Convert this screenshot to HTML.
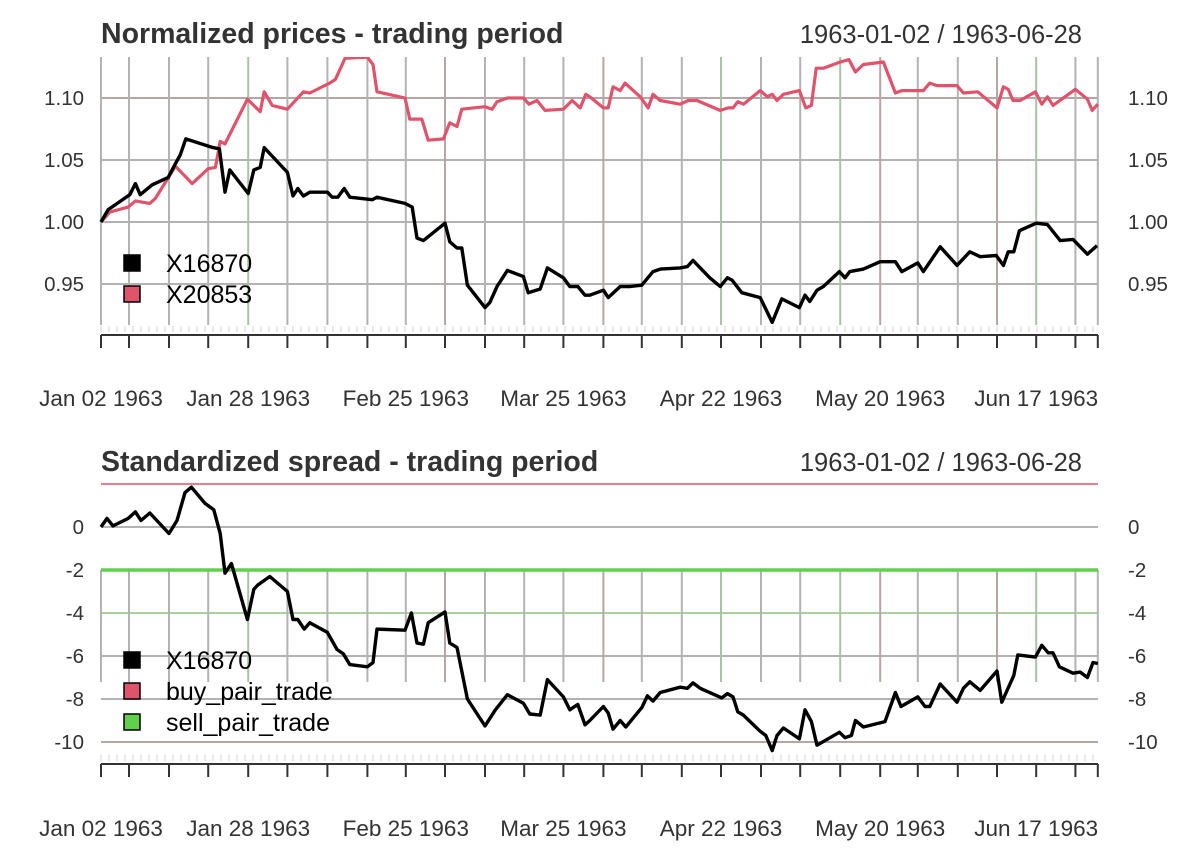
<!DOCTYPE html>
<html><head><meta charset="utf-8">
<style>
html,body{margin:0;padding:0;background:#fff;}
svg{display:block;font-family:"Liberation Sans",Arial,sans-serif;}
</style></head>
<body>
<svg id="chart" width="1200" height="857" viewBox="0 0 1200 857" xmlns="http://www.w3.org/2000/svg">
<text x="101" y="43" font-size="28.5" font-weight="bold" fill="#333">Normalized prices - trading period</text>
<text x="1082" y="43" font-size="25.5" fill="#333" text-anchor="end">1963-01-02 / 1963-06-28</text>
<text x="101" y="471" font-size="28.5" font-weight="bold" fill="#333">Standardized spread - trading period</text>
<text x="1082" y="471" font-size="25.5" fill="#333" text-anchor="end">1963-01-02 / 1963-06-28</text>
<g id="grid"></g>
<g id="series"></g>
<g id="axes"></g>
<g id="legends"></g>
</svg>
<script>
// ---- data ----
const weekTickIdx = [0,3.5,8.5,13.4,18.4,23.3,28.3,33.3,38.1,43,48,52.9,57.8,62.8,67.6,72.6,77.5,82.5,87.4,92.4,97.4,102.1,107.1,112,116.9,121.8,124.6];
const dateLabelIdx = [0,18.4,38.1,57.8,77.5,97.4,116.9];
const dateLabels = ["Jan 02 1963","Jan 28 1963","Feb 25 1963","Mar 25 1963","Apr 22 1963","May 20 1963","Jun 17 1963"];
const priceTicks = [0.95,1.00,1.05,1.10];
const priceTickLabels = ["0.95","1.00","1.05","1.10"];
const spreadTicks = [0,-2,-4,-6,-8,-10];
const spreadTickLabels = ["0","-2","-4","-6","-8","-10"];
const buyLevel = 2;
const sellLevel = -2;

const blackIdx = [0,0.9,3.6,4.3,4.9,6.4,8.4,9.3,9.9,10.6,14,14.8,15.5,16.1,18.4,19.1,19.9,20.4,23.3,24,24.6,25.3,26.1,28.3,28.9,29.6,30.4,31.1,33.9,34.5,38,38.9,39.5,40.3,43,43.6,44.5,45.1,45.8,48,48.6,49.5,50.8,52.8,53.4,54.9,55.8,57.8,58.6,59.6,60.5,
61.1,62.8,63.4,64.9,66.1,67.6,69,69.9,72.4,73.3,74,76.1,77.4,78.3,78.9,80.1,82.4,83.9,85.1,87.3,88,88.6,89.5,90.3,92.3,93,93.6,95.3,97.4,99.3,100.1,102.1,102.8,104.9,107,108.6,109.9,111.9,112.8,113.4,114.1,114.8,116.9,118.3,119.9,121.5,123.3,124.5];
const blackVal = [1.000,1.010,1.022,1.031,1.022,1.030,1.036,1.047,1.054,1.067,1.060,1.059,1.024,1.042,1.023,1.042,1.044,1.060,1.040,1.021,1.027,1.021,1.024,1.024,1.020,1.020,1.027,1.020,1.018,1.020,1.015,1.012,0.987,0.985,0.999,0.984,0.979,0.979,0.949,0.931,0.935,0.948,0.961,0.956,0.943,0.946,0.963,0.955,0.948,0.948,0.941,
0.941,0.945,0.939,0.948,0.948,0.949,0.960,0.962,0.963,0.964,0.969,0.955,0.948,0.955,0.953,0.943,0.939,0.919,0.938,0.931,0.941,0.936,0.945,0.948,0.960,0.955,0.960,0.962,0.968,0.968,0.960,0.967,0.960,0.980,0.965,0.976,0.972,0.973,0.965,0.976,0.976,0.993,0.999,0.998,0.985,0.986,0.974,0.981];

const redIdx = [0,1.1,3.4,4.3,6.1,6.8,9.3,11.4,13.4,14.3,14.9,15.5,18.3,19.9,20.4,21.4,23.3,25.3,26.1,28.6,29.3,30.5,33.3,34,34.5,38,38.6,40.1,40.9,42.8,43.6,44.5,45.1,48,48.9,49.5,50.8,52.8,53.5,54.5,55.5,57.8,58.9,59.9,60.6,
61.1,62.8,63.4,64,64.9,65.5,67.4,68.4,69,69.9,72.4,73.4,74.5,77.4,78.4,79,79.6,80.3,82.4,83.3,83.9,84.5,85.3,87.3,88.1,88.8,89.4,90.3,92.4,93.5,94.3,95.3,97.8,99.3,100.1,102.8,103.6,104.5,107,107.8,109.6,112,112.8,113.4,114,114.9,116.8,117.6,118.3,119,121.8,123.3,123.9,124.6];
const redVal = [1.000,1.008,1.012,1.017,1.015,1.019,1.045,1.031,1.043,1.044,1.065,1.063,1.099,1.089,1.105,1.094,1.091,1.105,1.104,1.112,1.115,1.132,1.133,1.127,1.105,1.100,1.083,1.083,1.066,1.067,1.080,1.077,1.091,1.093,1.091,1.097,1.100,1.100,1.095,1.098,1.090,1.091,1.098,1.092,1.103,
1.101,1.092,1.092,1.109,1.106,1.112,1.101,1.092,1.103,1.098,1.095,1.098,1.098,1.090,1.092,1.092,1.097,1.095,1.106,1.101,1.103,1.098,1.103,1.106,1.092,1.094,1.124,1.124,1.129,1.131,1.121,1.127,1.129,1.104,1.106,1.106,1.112,1.110,1.110,1.104,1.105,1.092,1.109,1.107,1.098,1.098,1.105,1.095,1.101,1.094,1.107,1.099,1.090,1.095];

const spreadIdx = [0,0.75,1.5,3.4,4.3,5,6.1,8.5,9.5,10.5,11.3,13,14.1,14.9,15.5,16.3,18.3,19.1,19.6,21.1,23.3,24,24.6,25.4,26.1,28.3,29.5,30.3,31.1,33.3,34,34.5,38,38.8,39.5,40.3,40.9,43,43.6,44.5,45.8,48,49.3,50.8,52.8,53.6,54.9,55.8,57.8,58.6,59.6,60.5,
61.1,62.8,63.4,64,64.9,65.6,67.6,68.3,69,69.9,72.4,73.3,74,74.9,77.6,78.3,79,79.6,80.3,82.4,83.1,83.9,84.5,85.3,87.3,88,88.8,89.5,92.3,93,93.8,94.3,95.3,98,99.3,100,102.1,103,103.6,104.9,107,107.8,108.6,109.9,112,112.6,114.1,114.6,116.8,117.6,118.4,119,119.8,121.5,122.4,123.3,124,124.6];
const spreadVal = [0,0.4,0.05,0.4,0.7,0.3,0.65,-0.3,0.3,1.6,1.85,1.1,0.8,-0.3,-2.15,-1.7,-4.3,-2.9,-2.7,-2.3,-3.0,-4.3,-4.3,-4.75,-4.45,-4.9,-5.7,-5.9,-6.4,-6.5,-6.3,-4.75,-4.8,-4.0,-5.4,-5.45,-4.45,-3.95,-5.4,-5.6,-8.0,-9.25,-8.5,-7.8,-8.2,-8.7,-8.75,-7.1,-7.9,-8.5,-8.25,-9.2,
-9.0,-8.35,-8.65,-9.4,-9.0,-9.3,-8.4,-7.85,-8.1,-7.7,-7.45,-7.5,-7.25,-7.5,-7.95,-7.75,-7.9,-8.6,-8.75,-9.5,-9.7,-10.4,-9.7,-9.35,-9.85,-8.5,-9.05,-10.15,-9.55,-9.8,-9.7,-9.0,-9.3,-9.05,-7.7,-8.35,-7.9,-8.35,-8.35,-7.3,-8.15,-7.5,-7.2,-7.6,-6.7,-8.15,-6.9,-5.95,-6.05,-5.5,-5.85,-5.85,-6.5,-6.8,-6.75,-7.0,-6.3,-6.35];

// ---- scales ----
const NS='http://www.w3.org/2000/svg';
const X0=101, X1=1098, DAY=8.0;
function xs(i){return X0+i*DAY;}
function yTop(v){return 222-(v-1)*1240;}
function yBot(v){return 527-v*21.5;}
function mk(tag,attrs,parent){const e=document.createElementNS(NS,tag);for(const k in attrs)e.setAttribute(k,attrs[k]);parent.appendChild(e);return e;}
const grid=document.getElementById('grid'), ser=document.getElementById('series'), axes=document.getElementById('axes'), leg=document.getElementById('legends');
const tint=["#b3b3b3","#b3b3b3","#b3b3b3","#b3b3b3","#a9c4a4","#b3b3b3","#b3b3b3","#b3b3b3","#b3b3b3","#b8a6a6","#b3b3b3","#b3b3b3","#b3b3b3","#b8a6a6","#b3b3b3","#b3b3b3","#a9c4a4","#b3b3b3","#b3b3b3","#a9c4a4","#b8a6a6","#b3b3b3","#b3b3b3","#b8a6a6","#a9c4a4","#b3b3b3","#b3b3b3"];

// top panel grid
priceTicks.forEach((t,k)=>{
  const l=mk('line',{x1:X0,x2:X1,y1:yTop(t),y2:yTop(t),stroke:t===1.10?'#b8a6a6':'#b3b3b3','stroke-width':2},grid);
  
  
  const a=mk('text',{x:84,y:yTop(t)+7,'font-size':20.5,fill:'#333','text-anchor':'end'},axes);a.textContent=priceTickLabels[k];
  
  
  const b=mk('text',{x:1128,y:yTop(t)+7,'font-size':20.5,fill:'#333'},axes);b.textContent=priceTickLabels[k];
  
  
});
weekTickIdx.forEach((i,k)=>{
  const l=mk('line',{x1:xs(i),x2:xs(i),y1:57,y2:325,stroke:tint[k],'stroke-width':2},grid);
  
  
});
// bottom panel grid
spreadTicks.forEach((t,k)=>{
  let c='#b3b3b3',w=2;
  if(t===-4){c='#a9d2a0';} if(t===-10){c='#b8a6a6';}
  if(t!==sellLevel){
    const l=mk('line',{x1:X0,x2:X1,y1:yBot(t),y2:yBot(t),stroke:c,'stroke-width':w},grid);
    
    
  }
  const a=mk('text',{x:84,y:yBot(t)+7,'font-size':20.5,fill:'#333','text-anchor':'end'},axes);a.textContent=spreadTickLabels[k];
  
  
  const b=mk('text',{x:1128,y:yBot(t)+7,'font-size':20.5,fill:'#333'},axes);b.textContent=spreadTickLabels[k];
  
  
});
weekTickIdx.forEach((i,k)=>{
  const l=mk('line',{x1:xs(i),x2:xs(i),y1:yBot(sellLevel),y2:682,stroke:tint[k],'stroke-width':2},grid);
  
  
});
const bl=mk('line',{x1:X0,x2:X1,y1:yBot(buyLevel),y2:yBot(buyLevel),stroke:'#df536b','stroke-width':1.5},grid);


const sl=mk('line',{x1:X0,x2:X1,y1:yBot(sellLevel),y2:yBot(sellLevel),stroke:'#61d04f','stroke-width':3.5},grid);



// x axes
[[335,348,326,398],[764,777,755,828]].forEach((p,pi)=>{
  const ax=mk('line',{x1:X0,x2:X1,y1:p[0],y2:p[0],stroke:'#333','stroke-width':2},axes);
  
  
  for(let d=0;d<=124;d++){
    const m=mk('line',{x1:xs(d),x2:xs(d),y1:p[2],y2:p[2]+6,stroke:'#e2e2e2','stroke-width':1.5},axes);
    
    
  }
  weekTickIdx.forEach(i=>{
    const t=mk('line',{x1:xs(i),x2:xs(i),y1:p[0],y2:p[1],stroke:'#333','stroke-width':2},axes);
    
    
  });
  dateLabelIdx.forEach((i,k)=>{
    const t=mk('text',{x:xs(i),y:p[3]+8,'font-size':22.5,fill:'#333','text-anchor':'middle'},axes);
    t.textContent=dateLabels[k];
    
    
  });
});

// series
const clip=mk('clipPath',{id:'topclip'},document.getElementById('chart'));
mk('rect',{x:95,y:57,width:1010,height:275},clip);
function path(idx,val,ys){return idx.map((i,k)=>(k?'L':'M')+xs(i).toFixed(1)+','+ys(val[k]).toFixed(1)).join(' ');}
const pr=mk('path',{d:path(redIdx,redVal,yTop),fill:'none',stroke:'#df536b','stroke-width':3.2,'stroke-linejoin':'round','clip-path':'url(#topclip)'},ser);


const pb=mk('path',{d:path(blackIdx,blackVal,yTop),fill:'none',stroke:'#000','stroke-width':3.4,'stroke-linejoin':'round'},ser);


const ps=mk('path',{d:path(spreadIdx,spreadVal,yBot),fill:'none',stroke:'#000','stroke-width':3.4,'stroke-linejoin':'round'},ser);



// legends
function legend(y,color,label){
  const r=mk('rect',{x:124,y:y-8,width:16,height:16,fill:color,stroke:'#000','stroke-width':1.5},leg);
  
  
  const t=mk('text',{x:166,y:y+9,'font-size':25,fill:'#000'},leg);
  t.textContent=label;
  
  
}
legend(263,'#000','X16870');
legend(294,'#df536b','X20853');
legend(660,'#000','X16870');
legend(691,'#df536b','buy_pair_trade');
legend(722,'#61d04f','sell_pair_trade');
</script>
</body></html>
